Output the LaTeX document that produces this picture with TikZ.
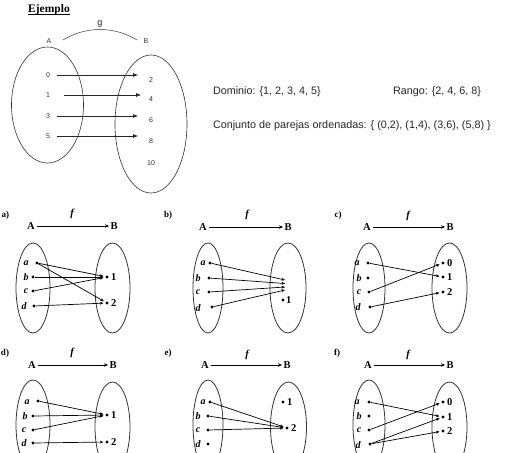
\documentclass[tikz,border=0pt]{standalone}
\usepackage{fontspec}
\setmainfont{Liberation Serif}
\newfontfamily\arialf{Liberation Sans}
\usetikzlibrary{arrows.meta}
\begin{document}
\begin{tikzpicture}[x=1pt,y=-1pt,
  every node/.style={inner sep=0pt,outer sep=0pt},
  pdot/.style={circle,fill=black,minimum size=3.2pt,inner sep=0pt},
  setell/.style={draw=black!80,line width=0.8pt},
  topell/.style={draw=black!80,line width=0.6pt},
  parr/.style={-{Stealth[length=3.5pt,width=3pt]},line width=0.7pt,shorten >=2pt},
  abarr/.style={-{Stealth[length=4pt,width=3.5pt]},line width=0.7pt,shorten <=2pt,shorten >=1.5pt},
  tarr/.style={-{Latex[length=5pt,width=4pt]},line width=0.7pt,draw=black!85},
  tsmall/.style={font=\arialf\fontsize{7}{8}\selectfont,text=black!80},
  sanstxt/.style={font=\arialf\fontsize{10.8}{12}\selectfont,text=black!85,anchor=west},
  plab/.style={font=\bfseries\fontsize{9}{10}\selectfont},
  fl/.style={font=\bfseries\itshape\fontsize{10.5}{11}\selectfont},
  AB/.style={font=\bfseries\fontsize{10.5}{11}\selectfont},
  el/.style={font=\bfseries\itshape\fontsize{10}{11}\selectfont},
  nl/.style={font=\bfseries\fontsize{10.5}{11}\selectfont,anchor=west}
]
\useasboundingbox (0,0) rectangle (505,452);
\clip (0,0) rectangle (505,452);
\fill[white] (0,0) rectangle (505,452);

% ---------------- Example ----------------
\node[font=\bfseries\fontsize{11.5}{13}\selectfont] (ej) at (49,10) {Ejemplo};
\draw[line width=0.5pt] ([yshift=-1.3pt]ej.base west) -- ([yshift=-1.3pt]ej.base east);
\node[tsmall] (tA) at (49,41) {A};
\node[tsmall] (tB) at (146,41) {B};
\node[font=\arialf\fontsize{9}{10}\selectfont,text=black!85] (tg) at (100,24) {g};
\coordinate (gs) at (63,40);
\coordinate (ge) at (137,40);
\draw[line width=0.5pt,black!80] (gs) .. controls (86,26) and (114,26) .. (ge);
\draw[topell] (47.5,105) ellipse [x radius=36pt,y radius=58pt];
\draw[topell] (151,124) ellipse [x radius=36pt,y radius=69pt];
\node[tsmall] (n0) at (48,75) {0};
\node[tsmall] (n1) at (48,95) {1};
\node[tsmall] (n3) at (48,116) {3};
\node[tsmall] (n5) at (48,136) {5};
\node[tsmall] (r2) at (151,80) {2};
\node[tsmall] (r4) at (151,99) {4};
\node[tsmall] (r6) at (151,120) {6};
\node[tsmall] (r8) at (151,141) {8};
\node[tsmall] (r10) at (151,163) {10};
\draw[tarr,shorten <=7pt,shorten >=11pt] (n0.east) -- (n0.east -| r2.west);
\draw[tarr,shorten <=14pt,shorten >=8pt] (n1.east) -- (n1.east -| r4.west);
\draw[tarr,shorten <=7pt,shorten >=11pt] (n3.east) -- (n3.east -| r6.west);
\draw[tarr,shorten <=7pt,shorten >=11pt] (n5.east) -- (n5.east -| r8.west);
\node[sanstxt] (dom) at (213,92) {Dominio: \{1, 2, 3, 4, 5\}};
\node[sanstxt] (ran) at (393,92) {Rango: \{2, 4, 6, 8\}};
\node[sanstxt] (par) at (213,126) {Conjunto de parejas ordenadas: \{ (0,2), (1,4), (3,6), (5,8) \}};

% ---------------- Panel a ----------------
\node[plab,anchor=east] (la) at (9,215) {a)};
\node[fl] (fa) at (72,214) {f};
\node[AB] (Aa) at (31,226) {A};
\node[AB] (Ba) at (114,226) {B};
\draw[abarr] (Aa) -- (Ba);
\draw[setell] (33,288) ellipse [x radius=17pt,y radius=45pt];
\draw[setell] (112.5,288) ellipse [x radius=17.5pt,y radius=45pt];
\node[el] (xaa) at (26,263) {a};
\node[el] (xab) at (26,277) {b};
\node[el] (xac) at (26,291) {c};
\node[el] (xad) at (24,306) {d};
\node[pdot] (paa) at (37,263) {};
\node[pdot] (pab) at (33,277) {};
\node[pdot] (pac) at (33,291) {};
\node[pdot] (pad) at (34,306) {};
\node[pdot] (pa1) at (107,277) {};
\node[pdot] (pa2) at (107,303) {};
\node[nl] (qa1) at (111,277) {1};
\node[nl] (qa2) at (111,303) {2};
\draw[parr] (paa) -- (pa1);
\draw[parr] (paa) -- (pa2);
\draw[parr] (pab) -- (pa1);
\draw[parr] (pac) -- (pa1);
\draw[parr] (pad) -- (pa2);

% ---------------- Panel b ----------------
\node[plab] (lb) at (168,215) {b)};
\node[fl] (fb) at (247,215) {f};
\node[AB] (Ab) at (203,227) {A};
\node[AB] (Bb) at (288,227) {B};
\draw[abarr] (Ab) -- (Bb);
\draw[setell] (208,288) ellipse [x radius=15pt,y radius=45pt];
\draw[setell] (288,288) ellipse [x radius=18pt,y radius=45pt];
\node[el] (xba) at (203,263) {a};
\node[el] (xbb) at (198,278) {b};
\node[el] (xbc) at (198,292) {c};
\node[el] (xbd) at (198,308) {d};
\node[pdot] (pba) at (210,263) {};
\node[pdot] (pbb) at (209,278) {};
\node[pdot] (pbc) at (209,292) {};
\node[pdot] (pbd) at (212,307) {};
\coordinate (cb1) at (285,280);
\coordinate (cb2) at (285,283.5);
\coordinate (cb3) at (285,287);
\coordinate (cb4) at (285,290);
\node[pdot] (pb1) at (283,300) {};
\node[nl] (qb1) at (286,300) {1};
\draw[parr,shorten >=0pt] (pba) -- (cb1);
\draw[parr,shorten >=0pt] (pbb) -- (cb2);
\draw[parr,shorten >=0pt] (pbc) -- (cb3);
\draw[parr,shorten >=0pt] (pbd) -- (cb4);

% ---------------- Panel c ----------------
\node[plab] (lc) at (338,215) {c)};
\node[fl] (fc) at (408,216) {f};
\node[AB] (Ac) at (367,227) {A};
\node[AB] (Bc) at (450,227) {B};
\draw[abarr] (Ac) -- (Bc);
\draw[setell] (369,288) ellipse [x radius=16pt,y radius=45pt];
\draw[setell] (449.5,288) ellipse [x radius=17.5pt,y radius=45pt];
\node[el] (xca) at (357,263) {a};
\node[el] (xcb) at (359,278) {b};
\node[el] (xcc) at (359,292) {c};
\node[el] (xcd) at (358,307) {d};
\node[pdot] (pca) at (368,263) {};
\node[pdot] (pcb) at (368,278) {};
\node[pdot] (pcc) at (369,292) {};
\node[pdot] (pcd) at (370,307) {};
\node[pdot] (pc0) at (443,263) {};
\node[pdot] (pc1) at (443,277) {};
\node[pdot] (pc2) at (443,292) {};
\node[nl] (qc0) at (447,263) {0};
\node[nl] (qc1) at (447,277) {1};
\node[nl] (qc2) at (447,292) {2};
\draw[parr] (pca) -- (pc1);
\draw[parr] (pcc) -- (pc0);
\draw[parr] (pcd) -- (pc2);

% ---------------- Panel d ----------------
\node[plab,anchor=east] (ld) at (9,353) {d)};
\node[fl] (fd) at (72,353) {f};
\node[AB] (Ad) at (32,365) {A};
\node[AB] (Bd) at (113,365) {B};
\draw[abarr] (Ad) -- (Bd);
\draw[setell] (33,425) ellipse [x radius=17pt,y radius=45pt];
\draw[setell] (112.5,427) ellipse [x radius=17.5pt,y radius=45pt];
\node[el] (xda) at (27,402) {a};
\node[el] (xdb) at (25,416) {b};
\node[el] (xdc) at (24,430) {c};
\node[el] (xdd) at (24,443) {d};
\node[pdot] (pda) at (38,401) {};
\node[pdot] (pdb) at (33,416) {};
\node[pdot] (pdc) at (33,430) {};
\node[pdot] (pdd) at (33,443) {};
\node[pdot] (pd1) at (107,415) {};
\node[pdot] (pd2) at (107,442) {};
\node[nl] (qd1) at (111,415) {1};
\node[nl] (qd2) at (111,442) {2};
\draw[parr] (pda) -- (pd1);
\draw[parr] (pdb) -- (pd1);
\draw[parr] (pdc) -- (pd1);
\draw[parr] (pdd) -- (pd2);

% ---------------- Panel e ----------------
\node[plab] (le) at (168,353) {e)};
\node[fl] (fe) at (247,355) {f};
\node[AB] (Ae) at (205,365) {A};
\node[AB] (Be) at (287,365) {B};
\draw[abarr] (Ae) -- (Be);
\draw[setell] (208,425) ellipse [x radius=15pt,y radius=45pt];
\draw[setell] (288.5,427) ellipse [x radius=18pt,y radius=45pt];
\node[el] (xea) at (203,402) {a};
\node[el] (xeb) at (198,416) {b};
\node[el] (xec) at (198,430) {c};
\node[el] (xed) at (198,444) {d};
\node[pdot] (pea) at (210,402) {};
\node[pdot] (peb) at (208,416) {};
\node[pdot] (pec) at (208,430) {};
\node[pdot] (ped) at (208,444) {};
\node[pdot] (pe1) at (283,402) {};
\node[pdot] (pe2) at (287,428) {};
\node[nl] (qe1) at (287,402) {1};
\node[nl] (qe2) at (291,428) {2};
\draw[parr] (pea) -- (pe2);
\draw[parr] (peb) -- (pe2);
\draw[parr] (pec) -- (pe2);

% ---------------- Panel f ----------------
\node[plab] (lf) at (337,353) {f)};
\node[fl] (ff) at (408,355) {f};
\node[AB] (Af) at (368,365) {A};
\node[AB] (Bf) at (450,365) {B};
\draw[abarr] (Af) -- (Bf);
\draw[setell] (369,425) ellipse [x radius=16pt,y radius=45pt];
\draw[setell] (449.5,427) ellipse [x radius=17.5pt,y radius=45pt];
\node[el] (xfa) at (357,402) {a};
\node[el] (xfb) at (359,416) {b};
\node[el] (xfc) at (359,430) {c};
\node[el] (xfd) at (358,445) {d};
\node[pdot] (pfa) at (369,402) {};
\node[pdot] (pfb) at (369,416) {};
\node[pdot] (pfc) at (369,430) {};
\node[pdot] (pfd) at (370,444) {};
\node[pdot] (pf0) at (443,402) {};
\node[pdot] (pf1) at (443,417) {};
\node[pdot] (pf2) at (443,431) {};
\node[nl] (qf0) at (447,402) {0};
\node[nl] (qf1) at (447,417) {1};
\node[nl] (qf2) at (447,431) {2};
\draw[parr] (pfa) -- (pf1);
\draw[parr] (pfc) -- (pf0);
\draw[parr] (pfd) -- (pf1);
\draw[parr] (pfd) -- (pf2);
\end{tikzpicture}
\end{document}
